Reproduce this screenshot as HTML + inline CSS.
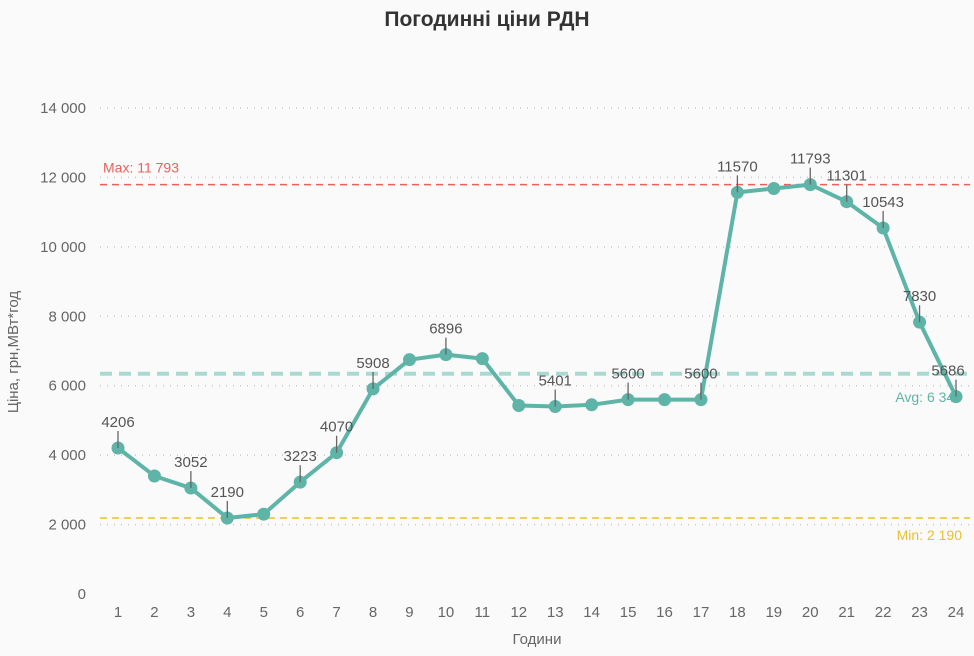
<!DOCTYPE html>
<html><head><meta charset="utf-8"><style>
body{margin:0;background:#fafafa;}
svg{display:block;font-family:"Liberation Sans","DejaVu Sans",sans-serif;}
</style></head><body>
<svg id="chart" width="974" height="656">
<text x="487" y="26" text-anchor="middle" font-size="21" font-weight="bold" fill="#333">Погодинні ціни РДН</text>
<text transform="translate(18,352) rotate(-90)" text-anchor="middle" font-size="15" fill="#666">Ціна, грн,МВт*год</text>
<text x="537" y="644" text-anchor="middle" font-size="15" fill="#666">Години</text>
<g id="grid"></g><g id="refs"></g><g id="series"></g><g id="labels"></g>
</svg>
<script>
const hours=[1,2,3,4,5,6,7,8,9,10,11,12,13,14,15,16,17,18,19,20,21,22,23,24];
const prices=[4206,3400,3052,2190,2300,3223,4070,5908,6750,6896,6780,5430,5401,5450,5600,5600,5600,11570,11680,11793,11301,10543,7830,5686];
const labeledHours=[1,3,4,6,7,8,10,13,15,17,18,20,21,22,23,24];
const yTicks=[0,2000,4000,6000,8000,10000,12000,14000];
const yTickLabels=["0","2 000","4 000","6 000","8 000","10 000","12 000","14 000"];
const NS="http://www.w3.org/2000/svg";
const y=v=>594-v*486/14000;
const x=h=>118+(h-1)*(838/23);
function mk(tag,attrs,parent,text){const e=document.createElementNS(NS,tag);for(const k in attrs)e.setAttribute(k,attrs[k]);if(text!==undefined)e.textContent=text;parent.appendChild(e);return e;}
const grid=document.getElementById('grid'),refs=document.getElementById('refs'),ser=document.getElementById('series'),lab=document.getElementById('labels');
yTicks.forEach((t,i)=>{
 if(t>0){const l=mk('line',{x1:100,x2:970,y1:y(t),y2:y(t),stroke:'#c8c8c8','stroke-dasharray':'1 6','stroke-width':1.5},grid);
 
 }
 const tx=mk('text',{x:86,y:y(t)+5,'text-anchor':'end','font-size':15,fill:'#666'},grid,yTickLabels[i]);
 
 
});
hours.forEach(h=>{const tx=mk('text',{x:x(h),y:617,'text-anchor':'middle','font-size':15,fill:'#666'},grid,String(h));
 
 });
const mx=Math.max(...prices),mn=Math.min(...prices),avg=prices.reduce((a,b)=>a+b,0)/prices.length;
const fmt=v=>String(Math.round(v)).replace(/\B(?=(\d{3})+(?!\d))/g,' ');
let l=mk('line',{x1:100,x2:970,y1:y(mx),y2:y(mx),stroke:'#e8625a','stroke-dasharray':'7 5','stroke-width':1.5},refs);


let t=mk('text',{x:103,y:y(mx)-12,'font-size':14,fill:'#e8625a'},refs,'Max: '+fmt(mx));


l=mk('line',{x1:100,x2:970,y1:y(mn),y2:y(mn),stroke:'#e8c22a','stroke-dasharray':'7 5','stroke-width':1.5},refs);


t=mk('text',{x:962,y:y(mn)+22,'text-anchor':'end','font-size':14,fill:'#e8c22a'},refs,'Min: '+fmt(mn));


l=mk('line',{x1:100,x2:970,y1:y(avg),y2:y(avg),stroke:'#a9d9d1','stroke-dasharray':'12 7','stroke-width':4},refs);


t=mk('text',{x:962,y:y(avg)+28,'text-anchor':'end','font-size':14,fill:'#5fb4a8'},refs,'Avg: '+fmt(avg));


const pl=mk('polyline',{points:hours.map((h,i)=>x(h)+','+y(prices[i])).join(' '),fill:'none',stroke:'#5fb4a8','stroke-width':4,'stroke-linejoin':'round'},ser);


hours.forEach((h,i)=>{const c=mk('circle',{cx:x(h),cy:y(prices[i]),r:6.5,fill:'#5fb4a8'},ser);
 
 
 if(labeledHours.includes(h)){
  const px=x(h),py=y(prices[i]);
  const ll=mk('line',{x1:px,x2:px,y1:py,y2:py-17,stroke:'#666','stroke-width':1.3},lab);
  
  
  const tt=mk('text',{x:h===24?px-8:px,y:py-21,'text-anchor':'middle','font-size':15,fill:'#555'},lab,String(prices[i]));
  
  
 }
});
</script>
</body></html>
